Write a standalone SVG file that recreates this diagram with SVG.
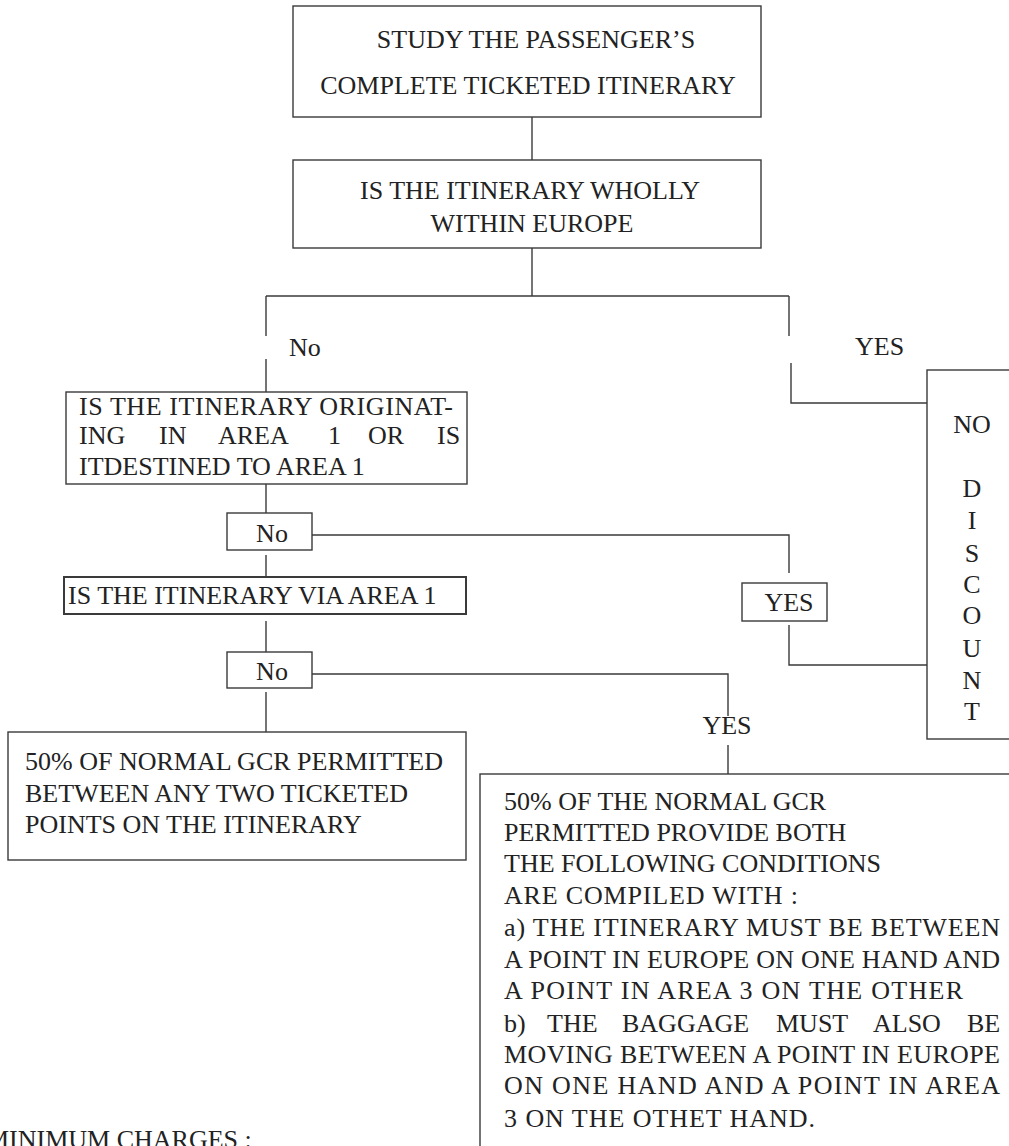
<svg xmlns="http://www.w3.org/2000/svg" width="1009" height="1146" viewBox="0 0 1009 1146">
<style>
.b{fill:#fff;stroke:#3a3a3a;stroke-width:1.4}
.c{fill:none;stroke:#3a3a3a;stroke-width:1.4}
</style>
<rect x="0" y="0" width="1009" height="1146" fill="#fff"/>
<g id="connectors">
<path class="c" d="M532 117V160"/>
<path class="c" d="M532 248V296"/>
<path class="c" d="M266 296H789"/>
<path class="c" d="M266 296V336M266 359V392"/>
<path class="c" d="M789 296V336M791 363V403H927"/>
<path class="c" d="M266 484V520"/>
<path class="c" d="M312 535H789V573"/>
<path class="c" d="M789 625V665H927"/>
<path class="c" d="M266 555V585"/>
<path class="c" d="M266 621V660"/>
<path class="c" d="M312 674H728V716M728 745V783"/>
<path class="c" d="M266 692V732"/>
</g>
<g id="n-study">
<rect class="b" x="293" y="6" width="468" height="111"/>
<text font-family="Liberation Serif" font-size="26" fill="#222" text-anchor="middle" x="536" y="48">STUDY THE PASSENGER’S</text>
<text font-family="Liberation Serif" font-size="26" fill="#222" text-anchor="middle" x="528" y="94">COMPLETE TICKETED ITINERARY</text>
</g>
<g id="n-europe">
<rect class="b" x="293" y="160" width="468" height="88"/>
<text font-family="Liberation Serif" font-size="26" fill="#222" text-anchor="middle" x="530" y="199">IS THE ITINERARY WHOLLY</text>
<text font-family="Liberation Serif" font-size="26" fill="#222" text-anchor="middle" x="532" y="232">WITHIN EUROPE</text>
</g>
<g id="l-no1"><text font-family="Liberation Serif" font-size="26" fill="#222" x="289" y="356">No</text></g>
<g id="l-yes1"><text font-family="Liberation Serif" font-size="26" fill="#222" x="855" y="355">YES</text></g>
<g id="n-nodiscount">
<rect class="b" x="927" y="370" width="110" height="369"/>
<text font-family="Liberation Serif" font-size="26" fill="#222" text-anchor="middle" x="972" y="433">NO</text>
<text font-family="Liberation Serif" font-size="26" fill="#222" text-anchor="middle" x="972" y="497">D</text>
<text font-family="Liberation Serif" font-size="26" fill="#222" text-anchor="middle" x="972" y="529">I</text>
<text font-family="Liberation Serif" font-size="26" fill="#222" text-anchor="middle" x="972" y="562">S</text>
<text font-family="Liberation Serif" font-size="26" fill="#222" text-anchor="middle" x="972" y="593">C</text>
<text font-family="Liberation Serif" font-size="26" fill="#222" text-anchor="middle" x="972" y="624">O</text>
<text font-family="Liberation Serif" font-size="26" fill="#222" text-anchor="middle" x="972" y="657">U</text>
<text font-family="Liberation Serif" font-size="26" fill="#222" text-anchor="middle" x="972" y="689">N</text>
<text font-family="Liberation Serif" font-size="26" fill="#222" text-anchor="middle" x="972" y="720">T</text>
</g>
<g id="n-area1">
<rect class="b" x="66" y="392" width="401" height="92"/>
<text font-family="Liberation Serif" font-size="26" fill="#222" x="79" y="415" textLength="374" lengthAdjust="spacing">IS THE  ITINERARY ORIGINAT-</text>
<text font-family="Liberation Serif" font-size="26" fill="#222" y="444"><tspan x="79">ING</tspan><tspan x="159">IN</tspan><tspan x="218">AREA</tspan><tspan x="328">1</tspan><tspan x="368">OR</tspan><tspan x="437">IS</tspan></text>
<text font-family="Liberation Serif" font-size="26" fill="#222" x="79" y="475">ITDESTINED TO AREA 1</text>
</g>
<g id="n-no2">
<rect class="b" x="227" y="513" width="85" height="37"/>
<text font-family="Liberation Serif" font-size="26" fill="#222" text-anchor="middle" x="272" y="542">No</text>
</g>
<g id="n-yes2">
<rect class="b" x="742" y="583" width="85" height="38"/>
<text font-family="Liberation Serif" font-size="26" fill="#222" text-anchor="middle" x="789" y="611">YES</text>
</g>
<g id="n-via">
<rect class="b" x="64" y="577" width="402" height="37" style="stroke-width:2"/>
<text font-family="Liberation Serif" font-size="26" fill="#222" x="68" y="604">IS THE ITINERARY VIA AREA 1</text>
</g>
<g id="n-no3">
<rect class="b" x="227" y="652" width="85" height="36"/>
<text font-family="Liberation Serif" font-size="26" fill="#222" text-anchor="middle" x="272" y="680">No</text>
</g>
<g id="l-yes3"><text font-family="Liberation Serif" font-size="26" fill="#222" text-anchor="middle" x="727" y="734">YES</text></g>
<g id="n-fifty">
<rect class="b" x="8" y="732" width="458" height="128"/>
<text font-family="Liberation Serif" font-size="26" fill="#222" x="25" y="770">50% OF NORMAL GCR PERMITTED</text>
<text font-family="Liberation Serif" font-size="26" fill="#222" x="25" y="802">BETWEEN ANY TWO TICKETED</text>
<text font-family="Liberation Serif" font-size="26" fill="#222" x="25" y="833">POINTS ON THE ITINERARY</text>
</g>
<g id="n-area3">
<rect class="b" x="480" y="774" width="600" height="420"/>
<text font-family="Liberation Serif" font-size="26" fill="#222" x="504" y="810">50% OF THE NORMAL GCR</text>
<text font-family="Liberation Serif" font-size="26" fill="#222" x="504" y="841">PERMITTED PROVIDE BOTH</text>
<text font-family="Liberation Serif" font-size="26" fill="#222" x="504" y="872">THE FOLLOWING CONDITIONS</text>
<text font-family="Liberation Serif" font-size="26" fill="#222" x="504" y="904" textLength="294" lengthAdjust="spacing">ARE  COMPILED  WITH :</text>
<text font-family="Liberation Serif" font-size="26" fill="#222" x="504" y="936" textLength="496" lengthAdjust="spacing">a) THE ITINERARY MUST BE BETWEEN</text>
<text font-family="Liberation Serif" font-size="26" fill="#222" x="504" y="968" textLength="496" lengthAdjust="spacing">A POINT IN EUROPE ON ONE HAND AND</text>
<text font-family="Liberation Serif" font-size="26" fill="#222" x="504" y="999" textLength="459" lengthAdjust="spacing">A POINT IN AREA 3 ON THE OTHER</text>
<text font-family="Liberation Serif" font-size="26" fill="#222" y="1032"><tspan x="504">b)</tspan><tspan x="547">THE</tspan><tspan x="622">BAGGAGE</tspan><tspan x="776">MUST</tspan><tspan x="873">ALSO</tspan><tspan x="967">BE</tspan></text>
<text font-family="Liberation Serif" font-size="26" fill="#222" x="504" y="1063" textLength="496" lengthAdjust="spacing">MOVING BETWEEN A POINT IN EUROPE</text>
<text font-family="Liberation Serif" font-size="26" fill="#222" x="504" y="1094" textLength="496" lengthAdjust="spacing">ON  ONE  HAND AND A POINT IN AREA</text>
<text font-family="Liberation Serif" font-size="26" fill="#222" x="504" y="1127" textLength="311" lengthAdjust="spacing">3 ON THE OTHET HAND.</text>
</g>
<g id="l-min"><text font-family="Liberation Serif" font-size="26" fill="#222" x="-14" y="1148">MINIMUM CHARGES :</text></g>
</svg>
